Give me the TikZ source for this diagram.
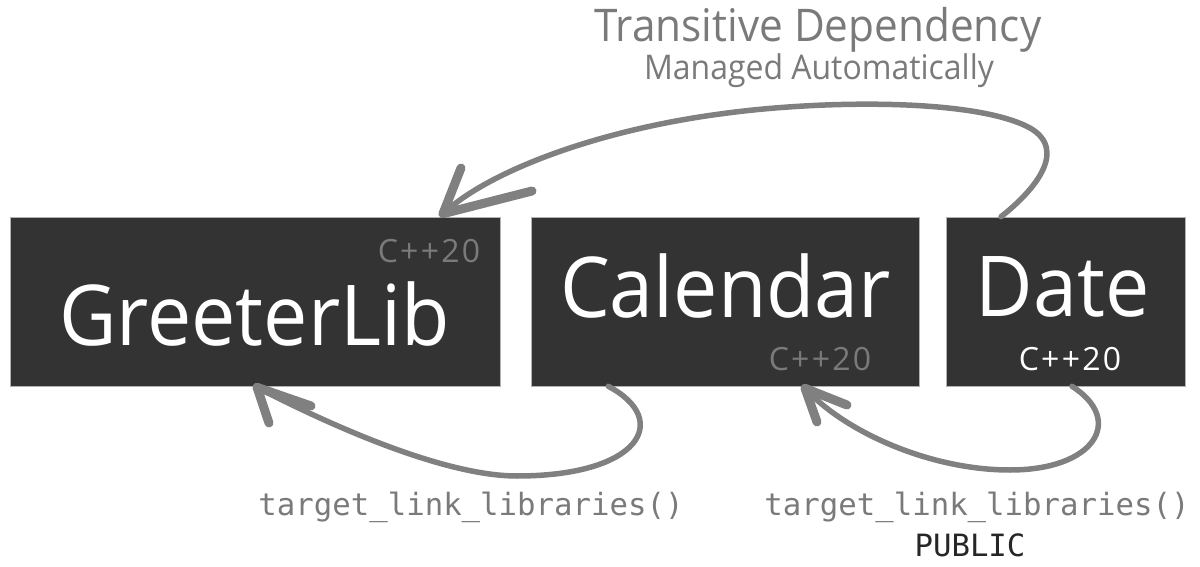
\documentclass[tikz,border=0pt]{standalone}
\usepackage{fontspec}
\setmainfont{Open Sans}[FakeStretch=0.94]
\newfontfamily\tagfont{Open Sans}[LetterSpace=7]
\setmonofont{DejaVu Sans Mono}
\definecolor{boxfill}{HTML}{333333}
\definecolor{txtgray}{HTML}{7A7A7A}
\definecolor{arrgray}{HTML}{808080}
\begin{document}
\begin{tikzpicture}[x=1pt,y=-1pt,
  libbox/.style={draw=black!30, line width=0.6pt, fill=boxfill, inner sep=0pt, minimum height=169pt},
  bigname/.style={text=white, font=\fontsize{84}{84}\selectfont, inner sep=0pt, anchor=base},
  stdtag/.style={font=\tagfont\fontsize{32}{32}\selectfont, inner sep=0pt, anchor=base},
  codelbl/.style={font=\ttfamily\fontsize{30.7}{31}\selectfont, text=txtgray, inner sep=0pt, anchor=base},
  brush/.style={draw=arrgray, line width=5.5pt, line cap=round},
  brushhead/.style={draw=arrgray, line width=9pt, line cap=round}]
\useasboundingbox (0,0) rectangle (1200,567);
% boxes
\node[libbox, minimum width=490pt] (g) at (255,301.5) {};
\node[libbox, minimum width=388pt] (c) at (725,301.5) {};
\node[libbox, minimum width=239pt] (d) at (1066,301.5) {};
% names
\node[bigname] (gname) at (254.5,345) {GreeterLib};
\node[bigname] (cname) at (725.5,317) {Calendar};
\node[bigname] (dname) at (1062.5,316) {Date};
% standards
\node[stdtag, text=txtgray] (gstd) at (429,262) {C++20};
\node[stdtag, text=txtgray] (cstd) at (820,370) {C++20};
\node[stdtag, text=white] (dstd) at (1070,370) {C++20};
% titles
\node[font=\fontsize{45}{45}\selectfont, text=txtgray, inner sep=0pt, anchor=base] (t1) at (818,42) {Transitive Dependency};
\node[font=\fontsize{34}{34}\selectfont, text=txtgray, inner sep=0pt, anchor=base] (t2) at (819,80) {Managed Automatically};
% code labels
\node[codelbl] (l1) at (471,515) {target\_link\_libraries()};
\node[codelbl] (l2) at (977,515) {target\_link\_libraries()};
\node[font=\ttfamily\fontsize{30.7}{31}\selectfont, text=black!85, inner sep=0pt, anchor=base] (l3) at (970,556) {PUBLIC};
% coordinates for arrow ends
\coordinate (dtop) at ([xshift=-65pt]d.north);
\coordinate (gtip) at ([xshift=188pt,yshift=3pt]g.north);
\coordinate (cbot) at ([xshift=-311pt]c.south east);
\coordinate (gbot) at ([xshift=2pt,yshift=-1pt]g.south);
\coordinate (dbot) at ([xshift=6pt]d.south);
\coordinate (cbtip) at ([xshift=80pt,yshift=-2pt]c.south);
% transitive arrow
\draw[brush] (dtop) .. controls (1035,190) and (1068,150) .. (1030,128)
  .. controls (975,98) and (820,100) .. (720,114)
  .. controls (600,130) and (490,170) .. (gtip);
\draw[brushhead] (gtip) -- (461,168);
\draw[brushhead] (gtip) -- (532,191);
% GreeterLib <- Calendar
\draw[brush] (cbot) .. controls (672,420) and (640,476) .. (517,476)
  .. controls (440,476) and (320,420) .. (gbot);
\draw[brushhead] (gbot) -- (269,423);
\draw[brushhead] (gbot) -- (311,406);
% Calendar <- Date
\draw[brush] (dbot) .. controls (1125,420) and (1095,470) .. (1010,470)
  .. controls (930,470) and (845,432) .. (cbtip);
\draw[brushhead] (cbtip) -- (817,422);
\draw[brushhead] (cbtip) -- (847,405);
\end{tikzpicture}
\end{document}
